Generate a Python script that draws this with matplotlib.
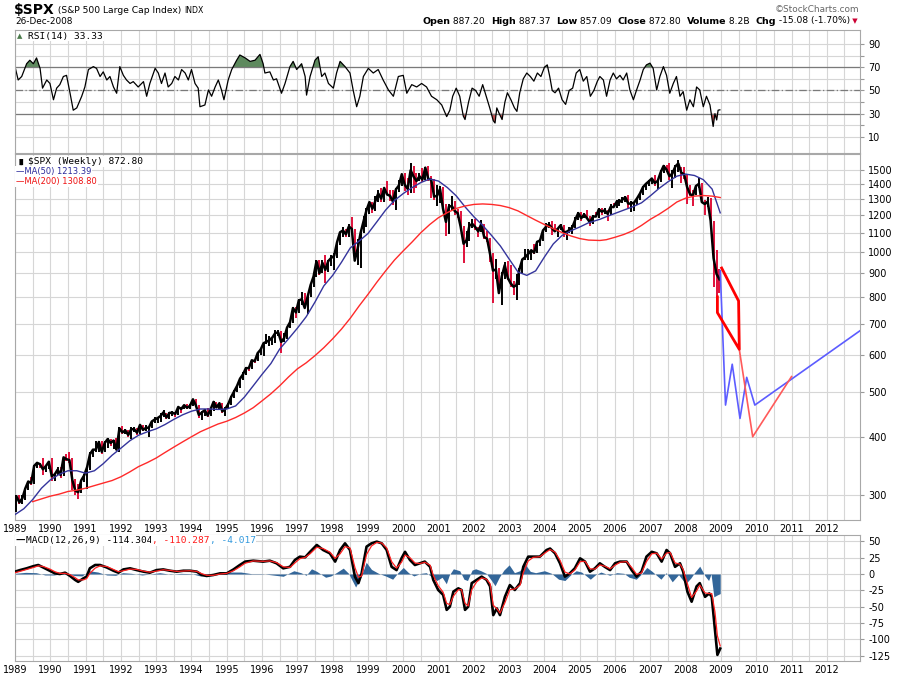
import numpy as np
import matplotlib
matplotlib.use("Agg")
import matplotlib.pyplot as plt
from matplotlib.ticker import NullLocator

W, H = 900, 677

# ---- $SPX monthly bars, Jan 1989 .. Dec 2008 ----
spx_close = [
    297.5, 288.9, 294.9, 309.6, 320.5, 317.9, 346.1, 351.5, 349.2, 340.4, 346.0, 353.4,
    329.1, 331.9, 339.9, 330.8, 361.2, 358.0, 356.2, 322.6, 306.1, 304.0, 322.2, 330.2,
    343.9, 367.1, 375.2, 375.3, 389.8, 371.2, 387.8, 395.4, 387.9, 392.5, 375.2, 417.1,
    408.8, 412.7, 403.7, 414.9, 415.4, 408.1, 424.2, 414.0, 417.8, 418.7, 431.4, 435.7,
    438.8, 443.4, 451.7, 440.2, 450.2, 450.5, 448.1, 463.6, 458.9, 467.8, 461.8, 466.5,
    481.6, 467.1, 445.8, 450.9, 456.5, 444.3, 458.3, 475.5, 462.7, 472.4, 453.7, 459.3,
    470.4, 487.4, 500.7, 514.7, 533.4, 544.8, 562.1, 561.9, 584.4, 581.5, 605.4, 615.9,
    636.0, 640.4, 645.5, 654.2, 669.1, 670.6, 639.9, 652.0, 687.3, 705.3, 757.0, 740.7,
    786.2, 790.8, 757.1, 801.3, 848.3, 885.1, 954.3, 899.5, 947.3, 914.6, 955.4, 970.4,
    980.3, 1049.3, 1101.8, 1111.8, 1090.8, 1133.8, 1120.7, 957.3, 1017.0, 1098.7, 1163.6, 1229.2,
    1279.6, 1238.3, 1286.4, 1335.2, 1301.8, 1372.7, 1328.7, 1320.4, 1282.7, 1362.9, 1389.0, 1469.3,
    1394.5, 1366.4, 1498.6, 1452.4, 1420.6, 1454.6, 1430.8, 1517.7, 1436.5, 1429.4, 1315.2, 1320.3,
    1366.0, 1239.9, 1160.3, 1249.5, 1255.8, 1224.4, 1211.2, 1133.6, 1040.9, 1059.8, 1139.5, 1148.1,
    1130.2, 1106.7, 1147.4, 1076.9, 1067.1, 989.8, 911.6, 916.1, 815.3, 885.8, 936.3, 879.8,
    855.7, 841.2, 848.2, 916.9, 963.6, 974.5, 990.3, 1008.0, 996.0, 1050.7, 1058.2, 1111.9,
    1131.1, 1144.9, 1126.2, 1107.3, 1120.7, 1140.8, 1101.7, 1104.2, 1114.6, 1130.2, 1173.8, 1211.9,
    1181.3, 1203.6, 1180.6, 1156.9, 1191.5, 1191.3, 1234.2, 1220.3, 1228.8, 1207.0, 1249.5, 1248.3,
    1280.1, 1280.7, 1294.9, 1310.6, 1270.1, 1270.2, 1276.7, 1303.8, 1335.8, 1377.9, 1400.6, 1418.3,
    1438.2, 1406.8, 1420.9, 1482.4, 1530.6, 1503.4, 1455.3, 1474.0, 1526.8, 1549.4, 1481.1, 1468.4,
    1378.6, 1330.6, 1322.7, 1385.6, 1400.4, 1280.0, 1267.4, 1282.8, 1166.4, 968.8, 896.2, 872.8,
]
spx_high = [
    300, 300, 300, 311, 322, 327, 347, 353, 352, 360, 347, 354,
    360, 335, 344, 344, 362, 368, 370, 360, 325, 316, 323, 333,
    345, 370, 377, 391, 392, 391, 391, 397, 395, 394, 398, 420,
    421, 416, 414, 419, 420, 418, 425, 425, 423, 420, 432, 442,
    442, 449, 456, 451, 453, 454, 452, 464, 464, 469, 470, 471,
    483, 483, 469, 455, 458, 462, 460, 477, 476, 474, 474, 463,
    473, 489, 505, 515, 535, 551, 565, 566, 586, 589, 609, 622,
    637, 664, 659, 656, 680, 680, 675, 668, 690, 711, 759, 761,
    790, 818, 815, 805, 852, 899, 962, 961, 961, 985, 961, 986,
    992, 1050, 1105, 1130, 1122, 1146, 1190, 1121, 1066, 1106, 1192, 1244,
    1280, 1282, 1317, 1362, 1375, 1373, 1420, 1361, 1362, 1375, 1425, 1473,
    1478, 1445, 1553, 1527, 1481, 1480, 1518, 1525, 1531, 1454, 1438, 1390,
    1383, 1376, 1267, 1269, 1316, 1287, 1239, 1227, 1135, 1110, 1160, 1174,
    1176, 1131, 1173, 1147, 1107, 1071, 994, 966, 925, 907, 951, 954,
    935, 865, 895, 924, 965, 1015, 1015, 1011, 1040, 1053, 1064, 1112,
    1155, 1159, 1163, 1150, 1128, 1146, 1140, 1109, 1131, 1142, 1188, 1217,
    1217, 1212, 1229, 1192, 1199, 1219, 1245, 1245, 1243, 1233, 1270, 1276,
    1294, 1297, 1310, 1318, 1327, 1284, 1283, 1306, 1340, 1389, 1407, 1431,
    1441, 1461, 1438, 1498, 1535, 1541, 1556, 1503, 1538, 1576, 1524, 1523,
    1472, 1396, 1359, 1396, 1440, 1404, 1292, 1314, 1303, 1167, 1007, 919,
]
spx_low = [
    275, 287, 287, 292, 307, 315, 316, 342, 343, 331, 336, 341,
    322, 322, 331, 326, 330, 355, 352, 307, 300, 294, 302, 320,
    309, 340, 362, 370, 371, 368, 370, 378, 383, 377, 374, 371,
    405, 405, 400, 396, 410, 404, 406, 411, 411, 400, 417, 428,
    429, 430, 442, 436, 436, 443, 442, 446, 450, 458, 458, 460,
    465, 464, 438, 435, 443, 442, 443, 454, 461, 458, 449, 444,
    458, 469, 484, 500, 510, 530, 544, 555, 560, 576, 581, 600,
    597, 633, 627, 631, 637, 660, 605, 639, 649, 685, 703, 722,
    737, 770, 756, 734, 798, 840, 884, 892, 899, 855, 903, 931,
    912, 969, 1032, 1076, 1074, 1075, 1114, 957, 939, 923, 1096, 1132,
    1205, 1211, 1223, 1283, 1278, 1281, 1323, 1288, 1263, 1233, 1346, 1387,
    1350, 1325, 1339, 1339, 1370, 1420, 1415, 1430, 1421, 1306, 1294, 1254,
    1274, 1228, 1081, 1091, 1232, 1203, 1183, 1123, 944, 1026, 1054, 1124,
    1114, 1074, 1106, 1064, 1048, 953, 775, 876, 815, 768, 873, 870,
    840, 807, 789, 847, 902, 960, 962, 960, 990, 995, 1031, 1053,
    1106, 1124, 1087, 1107, 1077, 1114, 1078, 1060, 1098, 1090, 1128, 1173,
    1163, 1180, 1176, 1136, 1146, 1188, 1183, 1201, 1205, 1168, 1201, 1246,
    1245, 1253, 1277, 1280, 1245, 1219, 1224, 1264, 1290, 1327, 1360, 1385,
    1403, 1389, 1364, 1416, 1476, 1484, 1427, 1371, 1439, 1489, 1406, 1435,
    1270, 1316, 1257, 1325, 1373, 1272, 1200, 1248, 1133, 840, 741, 816,
]

# ---- moving averages (read at roughly quarterly points) ----
ma50_t = [1989.0, 1989.25, 1989.5, 1989.75, 1990.0, 1990.25, 1990.5, 1990.75, 1991.0, 1991.25,
          1991.5, 1991.75, 1992.0, 1992.25, 1992.5, 1992.75, 1993.0, 1993.25, 1993.5, 1993.75,
          1994.0, 1994.25, 1994.5, 1994.75, 1995.0, 1995.25, 1995.5, 1995.75, 1996.0, 1996.25,
          1996.5, 1996.75, 1997.0, 1997.25, 1997.5, 1997.75, 1998.0, 1998.25, 1998.5, 1998.75,
          1999.0, 1999.25, 1999.5, 1999.75, 2000.0, 2000.25, 2000.5, 2000.75, 2001.0, 2001.25,
          2001.5, 2001.75, 2002.0, 2002.25, 2002.5, 2002.75, 2003.0, 2003.25, 2003.5, 2003.75,
          2004.0, 2004.25, 2004.5, 2004.75, 2005.0, 2005.25, 2005.57, 2005.75, 2006.0, 2006.25,
          2006.5, 2006.75, 2007.0, 2007.25, 2007.5, 2007.75, 2008.0, 2008.25, 2008.5, 2008.75,
          2008.98]
ma50_v = [272, 280, 293, 310, 323, 332, 338, 338, 334, 338,
          350, 365, 378, 392, 403, 410, 416, 425, 436, 446,
          454, 459, 459, 458, 459, 466, 487, 515, 545, 575,
          618, 650, 685, 725, 780, 845, 890, 950, 1020, 1055,
          1095, 1160, 1230, 1290, 1335, 1375, 1410, 1435, 1420, 1375,
          1320, 1250, 1190, 1140, 1085, 1030, 965, 905, 890, 910,
          975, 1040, 1085, 1110, 1131, 1155, 1175, 1190, 1210, 1230,
          1250, 1275, 1320, 1370, 1415, 1455, 1470, 1460, 1430, 1365,
          1213.39]
ma200_t = [1989.5, 1989.75, 1990.0, 1990.25, 1990.5, 1990.75, 1991.0, 1991.25, 1991.5, 1991.75,
           1992.0, 1992.25, 1992.5, 1992.75, 1993.0, 1993.25, 1993.5, 1993.75, 1994.0, 1994.25,
           1994.5, 1994.75, 1995.0, 1995.25, 1995.5, 1995.75, 1996.0, 1996.25, 1996.5, 1996.75,
           1997.0, 1997.25, 1997.5, 1997.75, 1998.0, 1998.25, 1998.5, 1998.75, 1999.0, 1999.25,
           1999.5, 1999.75, 2000.0, 2000.25, 2000.5, 2000.75, 2001.0, 2001.25, 2001.5, 2001.75,
           2002.0, 2002.25, 2002.5, 2002.75, 2003.0, 2003.25, 2003.5, 2003.75, 2004.0, 2004.25,
           2004.5, 2004.75, 2005.0, 2005.25, 2005.57, 2005.75, 2006.0, 2006.25, 2006.5, 2006.75,
           2007.0, 2007.25, 2007.5, 2007.75, 2008.0, 2008.25, 2008.5, 2008.75, 2008.98]
ma200_v = [290, 294, 298, 301, 305, 307, 310, 314, 318, 322,
           328, 336, 345, 352, 360, 370, 380, 390, 400, 410,
           418, 426, 432, 440, 450, 462, 478, 495, 515, 538,
           560, 577, 598, 622, 650, 682, 720, 765, 810, 860,
           910, 960, 1005, 1050, 1100, 1145, 1185, 1215, 1240, 1255,
           1265, 1268, 1265, 1258, 1245, 1225, 1197, 1170, 1145, 1122,
           1100, 1082, 1068, 1060, 1058, 1062, 1075, 1090, 1110, 1140,
           1175, 1205, 1240, 1280, 1305, 1318, 1322, 1318, 1308.8]

# ---- hand-drawn projection lines after the last bar ----
proj_blue_t = [2008.98, 2009.13, 2009.32, 2009.54, 2009.73, 2009.96, 2013.03]
proj_blue_v = [911, 468, 573, 438, 537, 468, 684]
proj_red_t = [2009.52, 2009.90, 2011.00]
proj_red_v = [617, 400, 539]
channel_t = [2009.02, 2009.50, 2009.52, 2008.90, 2008.90]
channel_v = [923, 784, 617, 740, 800]

# ---- RSI(14) ----
rsi_t = [1989.00, 1989.09, 1989.19, 1989.33, 1989.42, 1989.52, 1989.61, 1989.71, 1989.78, 1989.90,
         1989.99, 1990.09, 1990.18, 1990.27, 1990.37, 1990.46, 1990.56, 1990.65, 1990.75, 1990.89,
         1990.98, 1991.08, 1991.22, 1991.31, 1991.41, 1991.50, 1991.60, 1991.69, 1991.79, 1991.88,
         1991.97, 1992.07, 1992.16, 1992.26, 1992.35, 1992.49, 1992.64, 1992.73, 1992.82, 1992.97,
         1993.06, 1993.15, 1993.25, 1993.34, 1993.44, 1993.53, 1993.63, 1993.72, 1993.82, 1993.91,
         1994.00, 1994.10, 1994.19, 1994.24, 1994.38, 1994.48, 1994.57, 1994.67, 1994.76, 1994.85,
         1994.92, 1995.04, 1995.14, 1995.28, 1995.37, 1995.52, 1995.66, 1995.80, 1995.94, 1996.03,
         1996.08, 1996.22, 1996.32, 1996.41, 1996.55, 1996.65, 1996.79, 1996.88, 1996.98, 1997.12,
         1997.22, 1997.26, 1997.36, 1997.50, 1997.59, 1997.69, 1997.78, 1997.88, 1998.02, 1998.11,
         1998.21, 1998.35, 1998.49, 1998.58, 1998.68, 1998.77, 1998.87, 1999.01, 1999.15, 1999.29,
         1999.43, 1999.58, 1999.72, 1999.86, 2000.00, 2000.10, 2000.24, 2000.38, 2000.52, 2000.66,
         2000.80, 2000.95, 2001.09, 2001.23, 2001.32, 2001.40, 2001.50, 2001.60, 2001.70, 2001.75,
         2001.85, 2001.95, 2002.05, 2002.15, 2002.25, 2002.35, 2002.45, 2002.55, 2002.60, 2002.65,
         2002.72, 2002.80, 2002.88, 2002.95, 2003.05, 2003.15, 2003.22, 2003.30, 2003.40, 2003.50,
         2003.60, 2003.70, 2003.80, 2003.90, 2004.00, 2004.08, 2004.15, 2004.22, 2004.30, 2004.40,
         2004.50, 2004.60, 2004.70, 2004.80, 2004.90, 2005.00, 2005.10, 2005.20, 2005.30, 2005.40,
         2005.50, 2005.57, 2005.67, 2005.76, 2005.86, 2005.95, 2006.04, 2006.14, 2006.23, 2006.33,
         2006.42, 2006.52, 2006.61, 2006.71, 2006.80, 2006.89, 2006.99, 2007.08, 2007.18, 2007.27,
         2007.37, 2007.46, 2007.55, 2007.65, 2007.74, 2007.84, 2007.93, 2008.03, 2008.12, 2008.22,
         2008.31, 2008.40, 2008.50, 2008.59, 2008.69, 2008.78, 2008.83, 2008.88, 2008.92, 2008.97]
rsi_v = [70.5, 59, 62, 73, 76, 73, 78, 69, 52, 59,
         56, 42, 52, 55, 62, 63, 47.6, 33, 35, 45,
         53, 68, 70.5, 69, 62, 66, 59, 62, 53, 47.6,
         70.5, 63, 59, 56, 57.6, 53, 57.6, 45, 56, 69,
         65, 56, 65, 53, 56, 62, 59, 68, 65, 59,
         68, 56, 52, 36, 37.5, 50.4, 45, 53, 59, 50.4,
         42, 59, 68, 76, 80.5, 78, 75, 76, 81, 73,
         65, 66, 59, 60, 47.6, 56, 70.5, 75, 68, 73,
         62, 46, 62, 76, 79, 62, 65, 56, 52, 65,
         75, 70.5, 65, 50.4, 36, 45, 62, 69, 65, 68,
         59, 50.4, 45, 62, 63, 47.6, 55, 53, 56, 53,
         45, 42, 37.5, 27.5, 33, 45, 52, 45, 28, 25,
         40, 52, 50, 45, 55, 45, 35, 24, 22, 35,
         30, 25, 40, 48, 42, 35, 32, 48, 60, 65,
         62, 58, 65, 62, 70, 72, 62, 50, 48, 52,
         42, 38, 50, 52, 65, 68, 58, 62, 45, 50,
         58, 62, 59, 45, 59, 65, 60, 63, 59, 65,
         50.4, 42, 50.4, 59, 68, 72, 73.5, 69, 50.4, 62,
         70.5, 63, 47.6, 56, 62, 45, 49, 33, 42, 36,
         53, 50.4, 36, 45, 37.5, 19, 30, 24.6, 33, 33.33]

# ---- MACD(12,26,9): MACD line and signal line ----
macd_t = [1989.00, 1989.14, 1989.33, 1989.52, 1989.66, 1989.80, 1989.99, 1990.13, 1990.27, 1990.42,
          1990.56, 1990.70, 1990.79, 1990.94, 1991.03, 1991.12, 1991.27, 1991.41, 1991.60, 1991.79,
          1991.93, 1992.07, 1992.26, 1992.45, 1992.64, 1992.82, 1993.01, 1993.20, 1993.39, 1993.58,
          1993.77, 1993.96, 1994.15, 1994.29, 1994.43, 1994.62, 1994.81, 1995.00, 1995.19, 1995.37,
          1995.52, 1995.75, 1996.03, 1996.22, 1996.41, 1996.60, 1996.79, 1996.93, 1997.07, 1997.22,
          1997.36, 1997.55, 1997.73, 1997.92, 1998.07, 1998.21, 1998.35, 1998.49, 1998.63, 1998.73,
          1998.82, 1998.96, 1999.10, 1999.25, 1999.39, 1999.53, 1999.67, 1999.81, 1999.95, 2000.05,
          2000.19, 2000.33, 2000.47, 2000.61, 2000.76, 2000.85, 2000.99, 2001.13, 2001.23, 2001.32,
          2001.42, 2001.56, 2001.65, 2001.75, 2001.84, 2001.94, 2002.08, 2002.22, 2002.36, 2002.46,
          2002.55, 2002.65, 2002.74, 2002.88, 2003.02, 2003.16, 2003.31, 2003.40, 2003.54, 2003.68,
          2003.87, 2004.06, 2004.16, 2004.30, 2004.44, 2004.58, 2004.72, 2004.86, 2005.01, 2005.15,
          2005.29, 2005.43, 2005.57, 2005.71, 2005.86, 2006.00, 2006.14, 2006.33, 2006.47, 2006.61,
          2006.75, 2006.89, 2007.04, 2007.18, 2007.32, 2007.46, 2007.56, 2007.70, 2007.84, 2007.93,
          2008.05, 2008.17, 2008.31, 2008.40, 2008.55, 2008.67, 2008.74, 2008.83, 2008.90, 2008.98]
macd_v = [3.6, 6, 8.7, 12, 13.8, 10, 5, 1, 0, 2,
          -3, -9, -12, -6.6, -4, 8.7, 13.8, 13.8, 10, 5,
          2, 7, 8.7, 6, 3.6, 2, 6, 7, 5, 3.6,
          5, 5, 3.6, -1.5, -3, -1.5, 1, 1, 7, 13.8,
          19, 20.4, 19, 20.4, 16.4, 8.7, 11, 21.5, 26.6, 25.6,
          34, 44.5, 36.8, 31.7, 19, 36.8, 47, 36.8, -4, -14,
          1, 42, 47, 49.6, 47, 36.8, 11, 6, 24, 34,
          21.5, 13.8, 16.4, 19, 11, -9, -24.5, -32, -55, -50,
          -27, -22, -24.5, -55, -50, -14, -9, -4, -9, -19,
          -63, -52.7, -63, -35, -17, -24.5, -14, 11, 26.6, 26.6,
          26.6, 36.8, 39, 31.7, 16.4, -4, 1, 8.7, 24, 19,
          3.6, 8.7, 16.4, 11, 6, 16.4, 19, 19, 6, -4,
          3.6, 26.6, 34, 31.7, 19, 36.8, 31.7, 11, 16.4, 3.6,
          -27, -42.5, -19, -14, -35, -29.7, -35, -86, -124, -114.304]
signal_v = [2, 4, 7, 10, 12.5, 11.5, 7.5, 3.5, 1, 1,
            -1, -5.5, -9, -9, -7, 1, 9, 12.5, 11.5, 7,
            3.5, 5, 7.5, 7, 4.5, 2.8, 4.5, 6.5, 5.5, 4,
            4.5, 5, 4, 0.5, -2, -2, 0, 1, 5, 11,
            16.5, 20, 19.5, 20, 17.5, 11, 10, 17, 23.5, 25.5,
            31, 41, 39, 33.5, 24, 31, 42, 40, 10, -5,
            -3, 30, 43, 48.5, 47.5, 40, 19, 9, 18, 29,
            25, 17, 16, 18, 13.5, -2, -18, -28, -45, -47,
            -34, -24, -24, -45, -49, -24, -12, -6, -8, -15,
            -48, -53, -60, -44, -24, -23, -17, 2, 20, 25.5,
            26.5, 34, 37.5, 33.5, 21, 3, 0, 6, 19, 19.5,
            8, 7.5, 14, 12, 8, 13.5, 18, 19, 10, -0.5,
            1.5, 19, 31, 32, 23, 32, 33, 17, 15, 7,
            -15, -36, -26, -17, -29, -30, -30, -58, -95, -110.287]

# ---- MACD histogram (read separately, blue area) ----
hist_t = [1989.00, 1989.30, 1989.60, 1989.85, 1990.10, 1990.40, 1990.70, 1990.90, 1991.10, 1991.35,
          1991.60, 1991.85, 1992.05, 1992.30, 1992.60, 1992.90, 1993.10, 1993.40, 1993.70, 1994.00,
          1994.25, 1994.50, 1994.80, 1995.10, 1995.40, 1995.70, 1996.00, 1996.30, 1996.60, 1996.75,
          1996.90, 1997.10, 1997.25, 1997.40, 1997.55, 1997.80, 1997.95, 1998.10, 1998.30, 1998.45,
          1998.65, 1998.80, 1998.95, 1999.10, 1999.30, 1999.50, 1999.70, 1999.85, 2000.00, 2000.15,
          2000.30, 2000.50, 2000.65, 2000.80, 2000.95, 2001.10, 2001.22, 2001.30, 2001.42, 2001.60,
          2001.72, 2001.82, 2001.95, 2002.05, 2002.20, 2002.35, 2002.50, 2002.60, 2002.72, 2002.85,
          2003.00, 2003.15, 2003.30, 2003.45, 2003.60, 2003.75, 2004.00, 2004.20, 2004.40, 2004.58,
          2004.75, 2004.90, 2005.05, 2005.30, 2005.45, 2005.60, 2005.85, 2006.05, 2006.25, 2006.40,
          2006.60, 2006.75, 2006.90, 2007.05, 2007.30, 2007.45, 2007.62, 2007.80, 2008.00, 2008.15,
          2008.25, 2008.40, 2008.55, 2008.65, 2008.72, 2008.80, 2008.90, 2008.98]
hist_v = [1, 2.5, 2, -1.5, -1.5, 1, -2.5, -3, 5, 3,
          -1.5, -2, 2, 1, -1.5, 0.5, 2, -0.5, 1, 0.5,
          -3, -1.5, 1.5, 3, 3, 0.5, 0.5, -1.5, -3.5, 1,
          5, 2, -2, 8, 4, -5, -3, 2, 9, 1,
          -20, -5, 18, 7, 1, -3, -8, 2, 10, 2,
          -3, 1, 2, -4, -10, -5, -15, -2, 8, 5,
          -8, -10, 6, 8, 5, 1, -10, -18, -5, 6,
          14, 2, 5, 15, 4, 2, 5, 1, -8, -10,
          -1, 5, 3, -8, -1, 3, -2, 2, 1, -5,
          -8, 0, 10, 4, -8, 2, -12, -1, -15, -6,
          2, 12, -3, -10, 0, -35, -32, -30]

years = list(range(1989, 2013))
price_ticks = [300, 400, 500, 600, 700, 800, 900, 1000, 1100, 1200, 1300, 1400, 1500]
rsi_grid = [10, 20, 30, 40, 50, 60, 70, 80, 90]
rsi_labels = ["10", "", "30", "", "50", "", "70", "", "90"]
macd_ticks = [50, 25, 0, -25, -50, -75, -100, -125]

GRID = "#d6d6d6"
EDGE = "#a8a8a8"

fig = plt.figure(figsize=(W / 100, H / 100), dpi=100)


def panel(top, bottom):
    return fig.add_axes([15 / W, 1 - bottom / H, 845 / W, (bottom - top) / H])


def style(ax, ticks, labels):
    ax.set_xlim(1989.0, 2012.94)
    ax.set_xticks(years)
    ax.set_xticks(np.arange(1989.5, 2013, 1.0), minor=True)
    ax.grid(True, which="both", axis="x", color=GRID, lw=0.8)
    ax.set_yticks(ticks)
    ax.set_yticklabels(labels)
    ax.yaxis.set_minor_locator(NullLocator())
    ax.yaxis.tick_right()
    ax.grid(True, which="major", axis="y", color=GRID, lw=0.8)
    ax.tick_params(axis="y", length=3, color="#999999", labelsize=7, pad=3)
    ax.tick_params(axis="x", which="both", length=0, labelsize=7, pad=3)
    for s in ax.spines.values():
        s.set_color(EDGE)
        s.set_linewidth(0.8)
    ax.set_axisbelow(True)


# ---------------- RSI panel ----------------
ax_rsi = panel(30, 153)
style(ax_rsi, rsi_grid, rsi_labels)
ax_rsi.set_ylim(-3.8, 102)
ax_rsi.tick_params(labelbottom=False)
for lvl in (30, 70):
    ax_rsi.axhline(lvl, color="#7a7a7a", lw=0.9)
ax_rsi.axhline(50, color="#7a7a7a", lw=0.9, ls="-.", dashes=(6, 2, 1, 2))
rt = np.array(rsi_t)
rv = np.array(rsi_v)
ax_rsi.fill_between(rt, rv, 70, where=rv > 70, interpolate=True, color="#5e8a5e", lw=0)
ax_rsi.fill_between(rt, rv, 30, where=rv < 30, interpolate=True, color="#c05050", lw=0)
ax_rsi.plot(rt, rv, color="black", lw=0.9)

# ---------------- price panel ----------------
ax_px = panel(154, 520)
ax_px.set_yscale("log")
style(ax_px, price_ticks, [str(v) for v in price_ticks])
ax_px.set_ylim(264.8, 1624)

close = np.array(spx_close)
hi = np.array(spx_high)
lo = np.array(spx_low)
bar_t = 1989 + (np.arange(len(close)) + 0.5) / 12
prev = np.r_[close[0], close[:-1]]
cols = ["black" if c >= p else "#e0103a" for c, p in zip(close, prev)]
ax_px.vlines(bar_t, lo, hi, colors=cols, lw=1.4, zorder=3)
ax_px.plot(bar_t, close, color="black", lw=1.8, zorder=3)

ax_px.plot(ma50_t, ma50_v, color="#34349c", lw=1.0, zorder=4)
ax_px.plot(ma200_t, ma200_v, color="#ff2a2a", lw=1.0, zorder=4)

ax_px.plot(proj_blue_t, proj_blue_v, color="#5c5cff", lw=1.2, zorder=4)
ax_px.plot(proj_red_t, proj_red_v, color="#ff5a5a", lw=1.2, zorder=4)
ax_px.plot(channel_t, channel_v, color="#ff0000", lw=2.0, zorder=5)

# ---------------- MACD panel ----------------
ax_macd = panel(535, 661)
style(ax_macd, macd_ticks, [str(v) for v in macd_ticks])
ax_macd.set_ylim(-133.4, 59.8)
ax_macd.fill_between(hist_t, hist_v, 0, color="#336699", lw=0, zorder=2)
ax_macd.plot(macd_t, macd_v, color="black", lw=1.9, zorder=3)
ax_macd.plot(macd_t, signal_v, color="#ff2020", lw=0.9, zorder=4)

# ---------------- texts ----------------
renderer = fig.canvas.get_renderer()


def fx(x):
    return x / W


def fy(y):
    return 1 - y / H


def run(x, y, parts, keep=True, **kw):
    """write pieces of text one after the other, starting at pixel x"""
    for s, color, weight, size, family in parts:
        t = fig.text(fx(x), fy(y), s, color=color, fontweight=weight, fontsize=size,
                     family=family, va="center", ha="left", **kw)
        x += t.get_window_extent(renderer).width
        if not keep:
            t.remove()
    return x


SANS = "DejaVu Sans"
MONO = "DejaVu Sans Mono"

run(14, 10.5, [("$SPX", "black", "bold", 10, SANS),
               (" (S&P 500 Large Cap Index) ", "black", "normal", 6.6, SANS),
               ("INDX", "black", "normal", 5.6, SANS)])
fig.text(fx(15), fy(22), "26-Dec-2008", fontsize=6.4, va="center", ha="left", family=SANS)
fig.text(fx(859), fy(9.5), "\u00a9StockCharts.com", fontsize=6.4, color="#666666",
         va="center", ha="right", family=SANS)

hdr = [("Open", "black", "bold", 6.8, SANS), (" 887.20  ", "black", "normal", 6.6, SANS),
       ("High", "black", "bold", 6.8, SANS), (" 887.37  ", "black", "normal", 6.6, SANS),
       ("Low", "black", "bold", 6.8, SANS), (" 857.09  ", "black", "normal", 6.6, SANS),
       ("Close", "black", "bold", 6.8, SANS), (" 872.80  ", "black", "normal", 6.6, SANS),
       ("Volume", "black", "bold", 6.8, SANS), (" 8.2B  ", "black", "normal", 6.6, SANS),
       ("Chg", "black", "bold", 6.8, SANS), (" -15.08 (-1.70%)", "black", "normal", 6.6, SANS),
       (" \u25bc", "#cc0033", "normal", 5, SANS)]
width = run(0, 21, hdr, keep=False)
run(858 - width, 21, hdr)

box = dict(facecolor="white", edgecolor="none", pad=0.6)
fig.text(fx(17), fy(36), "\u25b2", color="#4a7a4a", fontsize=5, va="center", ha="left")
fig.text(fx(28), fy(36), "RSI(14) 33.33", fontsize=6.8, family=MONO, va="center",
         ha="left", bbox=box)

fig.text(fx(17), fy(161.5), "\u2590\u258c", color="black", fontsize=4.5, va="center", ha="left")
fig.text(fx(28), fy(161.5), "$SPX (Weekly) 872.80", fontsize=6.8, family=MONO, va="center",
         ha="left", bbox=box)
fig.text(fx(16), fy(171.5), "\u2014MA(50) 1213.39", fontsize=6, color="#2a2a9a", va="center",
         ha="left", bbox=box)
fig.text(fx(16), fy(181.5), "\u2014MA(200) 1308.80", fontsize=6, color="#ee1111", va="center",
         ha="left", bbox=box)

run(16, 540.5, [("\u2014", "black", "bold", 6.8, SANS),
                ("MACD(12,26,9) -114.304", "black", "normal", 6.8, MONO),
                (", -110.287", "#ff1a1a", "normal", 6.8, MONO),
                (", -4.017", "#3399dd", "normal", 6.8, MONO)], bbox=box)

fig.savefig("out.png", dpi=100)
